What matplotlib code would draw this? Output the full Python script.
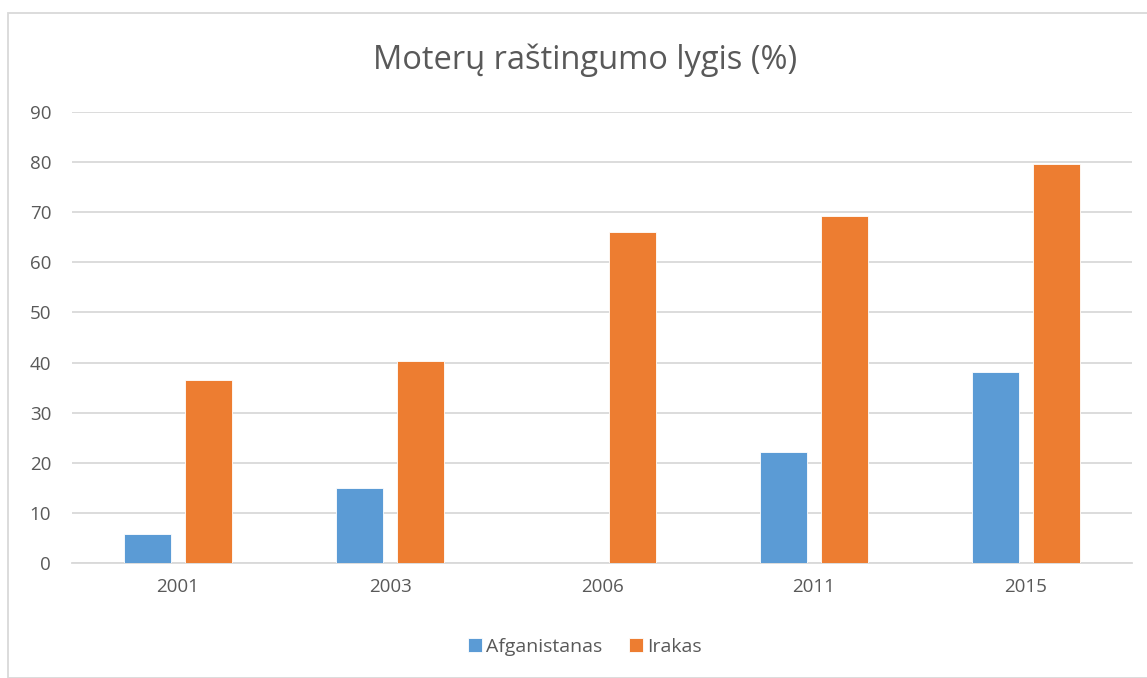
import matplotlib.pyplot as plt
import numpy as np
from matplotlib.patches import Rectangle

# data
years = ["2001", "2003", "2006", "2011", "2015"]
afganistanas = [5.7, 15.0, 0, 22.2, 38.2]
irakas = [36.5, 40.4, 66.0, 69.2, 79.6]
series_names = ["Afganistanas", "Irakas"]
yticks = list(range(0, 100, 10))

BLUE = "#5B9BD5"
ORANGE = "#ED7D31"
TEXT = "#595959"
GRID = "#D9D9D9"

plt.rcParams['font.family'] = ['Open Sans', 'DejaVu Sans']

fig = plt.figure(figsize=(11.47, 6.78), dpi=100)
ax = fig.add_axes([72 / 1147, 1 - 563 / 678, (1132 - 72) / 1147, (563 - 112) / 678])

# chart area border
fig.patches.append(Rectangle((8 / 1147, 0), 1.0, 1 - 13 / 678, transform=fig.transFigure,
                             fill=False, edgecolor=GRID, linewidth=1.3))

x = np.arange(len(years))
w = 0.222
off = 0.142
ax.bar(x - off, afganistanas, w, color=BLUE, edgecolor="white", linewidth=0.6,
       label=series_names[0], zorder=3)
ax.bar(x + off, irakas, w, color=ORANGE, edgecolor="white", linewidth=0.6,
       label=series_names[1], zorder=3)

ax.set_xlim(-0.5, len(years) - 0.5)
ax.set_ylim(0, 90)
ax.set_yticks(yticks)
ax.set_xticks(x)
ax.set_xticklabels(years)
ax.tick_params(axis='both', length=0, labelsize=13.5, colors=TEXT)
ax.tick_params(axis='y', pad=15)
ax.tick_params(axis='x', pad=11)
ax.grid(axis='y', color=GRID, linewidth=1.3, zorder=0)
for s in ["top", "right", "left"]:
    ax.spines[s].set_visible(False)
ax.spines["bottom"].set_color(GRID)
ax.spines["bottom"].set_linewidth(1.3)

fig.text(0.51, 1 - 60 / 678, "Moterų raštingumo lygis (%)", ha="center", va="center",
         fontsize=23.5, color=TEXT)

fig.legend(loc="center", bbox_to_anchor=(0.51, 1 - 647 / 678), ncol=2, frameon=False,
           fontsize=14, labelcolor=TEXT, handlelength=0.7, handleheight=0.7,
           handletextpad=0.2, columnspacing=1.4)

fig.savefig("out.png", dpi=100)
